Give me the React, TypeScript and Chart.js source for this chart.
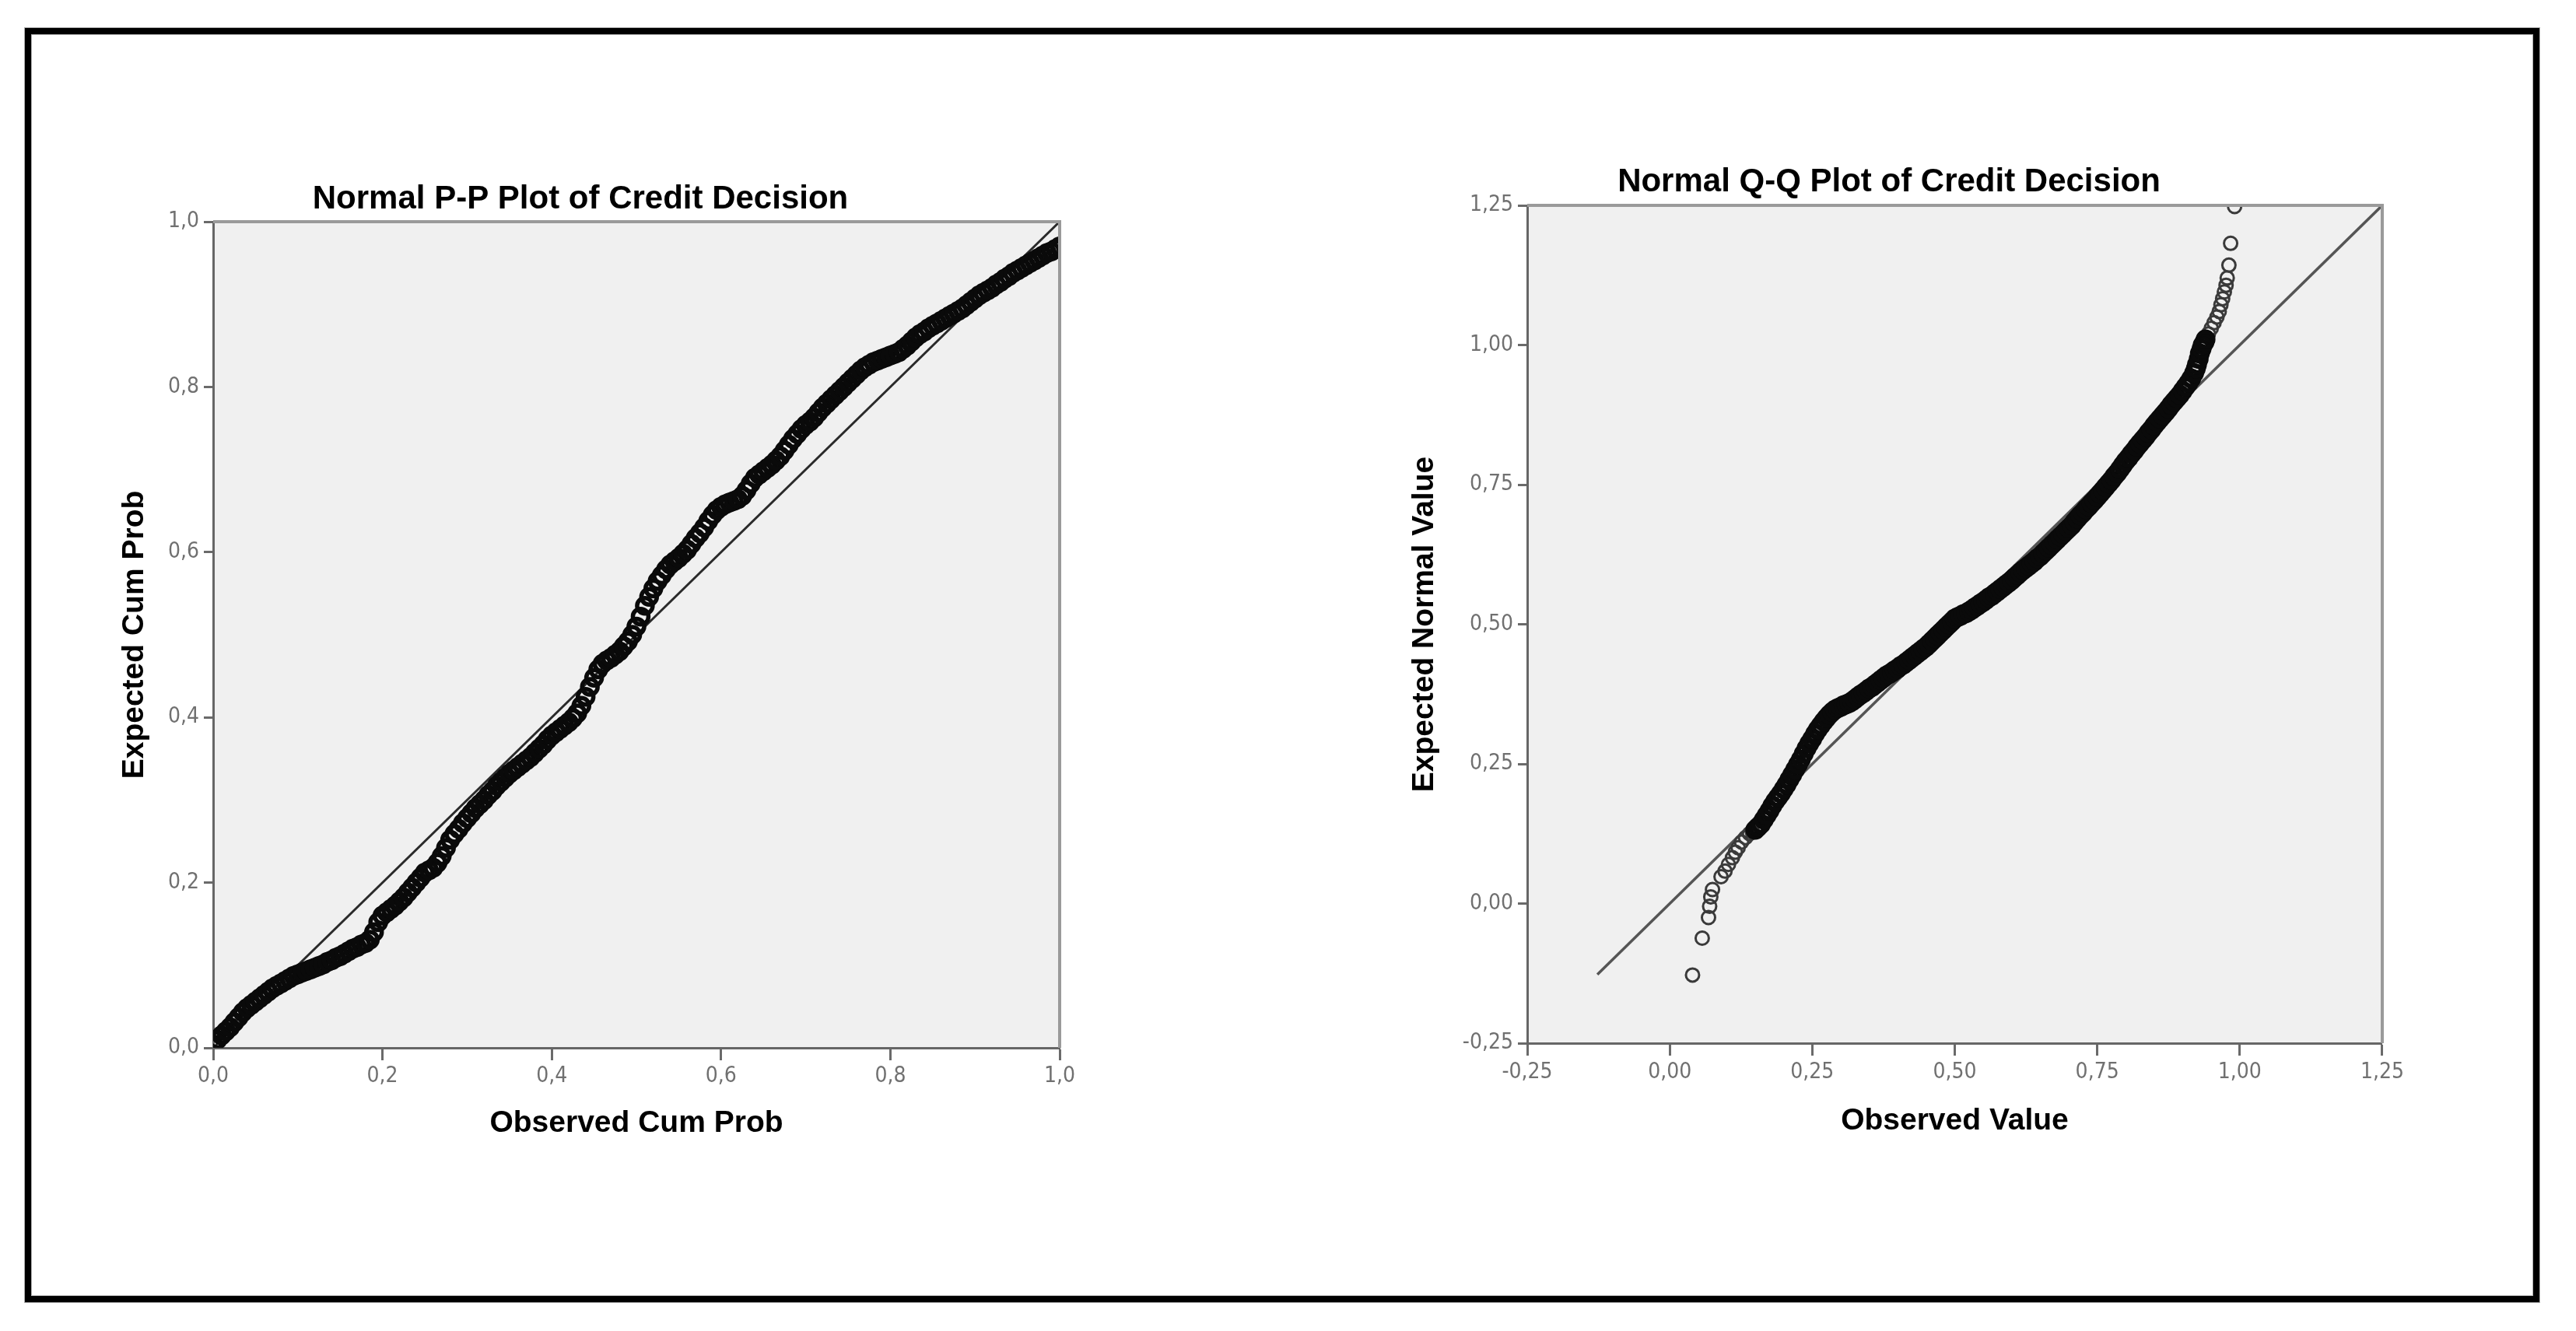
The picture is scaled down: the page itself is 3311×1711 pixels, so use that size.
import React, { useEffect, useRef } from 'react';
import { Chart, registerables } from 'chart.js';
Chart.register(...registerables);

// ---------- Normal P-P plot data ----------
const ppObserved = [
  0.000, 0.005, 0.010, 0.015, 0.020, 0.025, 0.030, 0.035, 0.040, 0.045,
  0.050, 0.055, 0.060, 0.065, 0.070, 0.075, 0.080, 0.085, 0.090, 0.095,
  0.100, 0.105, 0.110, 0.115, 0.120, 0.125, 0.130, 0.135, 0.140, 0.145,
  0.150, 0.155, 0.160, 0.165, 0.170, 0.175, 0.180, 0.185, 0.190, 0.195,
  0.200, 0.205, 0.210, 0.215, 0.220, 0.225, 0.230, 0.235, 0.240, 0.245,
  0.250, 0.255, 0.260, 0.265, 0.270, 0.275, 0.280, 0.285, 0.290, 0.295,
  0.300, 0.305, 0.310, 0.315, 0.320, 0.325, 0.330, 0.335, 0.340, 0.345,
  0.350, 0.355, 0.360, 0.365, 0.370, 0.375, 0.380, 0.385, 0.390, 0.395,
  0.400, 0.405, 0.410, 0.415, 0.420, 0.425, 0.430, 0.435, 0.440, 0.445,
  0.450, 0.455, 0.460, 0.465, 0.470, 0.475, 0.480, 0.485, 0.490, 0.495,
  0.500, 0.505, 0.510, 0.515, 0.520, 0.525, 0.530, 0.535, 0.540, 0.545,
  0.550, 0.555, 0.560, 0.565, 0.570, 0.575, 0.580, 0.585, 0.590, 0.595,
  0.600, 0.605, 0.610, 0.615, 0.620, 0.625, 0.630, 0.635, 0.640, 0.645,
  0.650, 0.655, 0.660, 0.665, 0.670, 0.675, 0.680, 0.685, 0.690, 0.695,
  0.700, 0.705, 0.710, 0.715, 0.720, 0.725, 0.730, 0.735, 0.740, 0.745,
  0.750, 0.755, 0.760, 0.765, 0.770, 0.775, 0.780, 0.785, 0.790, 0.795,
  0.800, 0.805, 0.810, 0.815, 0.820, 0.825, 0.830, 0.835, 0.840, 0.845,
  0.850, 0.855, 0.860, 0.865, 0.870, 0.875, 0.880, 0.885, 0.890, 0.895,
  0.900, 0.905, 0.910, 0.915, 0.920, 0.925, 0.930, 0.935, 0.940, 0.945,
  0.950, 0.955, 0.960, 0.965, 0.970, 0.975, 0.980, 0.985, 0.990, 0.995,
  1.000,
];
const ppExpected = [
  0.004, 0.010, 0.015, 0.020, 0.025, 0.031, 0.037, 0.043, 0.048, 0.052,
  0.056, 0.060, 0.064, 0.068, 0.072, 0.075, 0.078, 0.081, 0.084, 0.087,
  0.089, 0.091, 0.093, 0.095, 0.097, 0.099, 0.101, 0.104, 0.106, 0.109,
  0.111, 0.114, 0.117, 0.120, 0.122, 0.125, 0.127, 0.131, 0.140, 0.152,
  0.160, 0.164, 0.168, 0.172, 0.177, 0.182, 0.188, 0.194, 0.200, 0.206,
  0.212, 0.215, 0.218, 0.224, 0.232, 0.242, 0.252, 0.259, 0.265, 0.272,
  0.278, 0.284, 0.290, 0.295, 0.300, 0.306, 0.311, 0.317, 0.322, 0.327,
  0.332, 0.336, 0.340, 0.344, 0.348, 0.352, 0.357, 0.362, 0.367, 0.373,
  0.378, 0.382, 0.386, 0.390, 0.394, 0.399, 0.405, 0.414, 0.425, 0.437,
  0.448, 0.458, 0.465, 0.469, 0.472, 0.476, 0.480, 0.486, 0.492, 0.500,
  0.510, 0.522, 0.535, 0.546, 0.556, 0.565, 0.572, 0.579, 0.585, 0.589,
  0.593, 0.598, 0.603, 0.610, 0.617, 0.623, 0.630, 0.638, 0.645, 0.651,
  0.655, 0.658, 0.660, 0.662, 0.664, 0.668, 0.675, 0.683, 0.690, 0.694,
  0.698, 0.702, 0.706, 0.711, 0.716, 0.723, 0.730, 0.737, 0.743, 0.749,
  0.754, 0.758, 0.763, 0.769, 0.775, 0.780, 0.785, 0.790, 0.795, 0.800,
  0.805, 0.810, 0.815, 0.820, 0.824, 0.827, 0.830, 0.832, 0.834, 0.836,
  0.838, 0.840, 0.842, 0.846, 0.850, 0.855, 0.860, 0.864, 0.867, 0.871,
  0.874, 0.877, 0.880, 0.883, 0.886, 0.889, 0.892, 0.895, 0.899, 0.903,
  0.907, 0.911, 0.914, 0.917, 0.920, 0.924, 0.927, 0.931, 0.934, 0.938,
  0.941, 0.944, 0.947, 0.950, 0.953, 0.956, 0.959, 0.962, 0.964, 0.967,
  0.970,
];
const ppLineX = [0, 1];
const ppLineY = [0, 1];
const ppTickValues = [0, 0.2, 0.4, 0.6, 0.8, 1.0];
const ppTickLabels = ['0,0', '0,2', '0,4', '0,6', '0,8', '1,0'];

// ---------- Normal Q-Q plot data ----------
// lower tail (isolated circles)
const qqLowObserved = [
  0.040, 0.057, 0.068, 0.070, 0.072, 0.075, 0.090, 0.097, 0.103, 0.110,
  0.115, 0.120, 0.126, 0.133, 0.140, 0.145,
];
const qqLowExpected = [
  -0.128, -0.062, -0.025, -0.005, 0.012, 0.025, 0.048, 0.058, 0.070, 0.082,
  0.092, 0.100, 0.110, 0.118, 0.125, 0.128,
];
// dense central band
const qqObserved = [
  0.150, 0.155, 0.160, 0.165, 0.170, 0.175, 0.180, 0.185, 0.190, 0.195,
  0.200, 0.205, 0.210, 0.215, 0.220, 0.225, 0.230, 0.235, 0.240, 0.245,
  0.250, 0.255, 0.260, 0.265, 0.270, 0.275, 0.280, 0.285, 0.290, 0.295,
  0.300, 0.305, 0.310, 0.315, 0.320, 0.325, 0.330, 0.335, 0.340, 0.345,
  0.350, 0.355, 0.360, 0.365, 0.370, 0.375, 0.380, 0.385, 0.390, 0.395,
  0.400, 0.405, 0.410, 0.415, 0.420, 0.425, 0.430, 0.435, 0.440, 0.445,
  0.450, 0.455, 0.460, 0.465, 0.470, 0.475, 0.480, 0.485, 0.490, 0.495,
  0.500, 0.505, 0.510, 0.515, 0.520, 0.525, 0.530, 0.535, 0.540, 0.545,
  0.550, 0.555, 0.560, 0.565, 0.570, 0.575, 0.580, 0.585, 0.590, 0.595,
  0.600, 0.605, 0.610, 0.615, 0.620, 0.625, 0.630, 0.635, 0.640, 0.645,
  0.650, 0.655, 0.660, 0.665, 0.670, 0.675, 0.680, 0.685, 0.690, 0.695,
  0.700, 0.705, 0.710, 0.715, 0.720, 0.725, 0.730, 0.735, 0.740, 0.745,
  0.750, 0.755, 0.760, 0.765, 0.770, 0.775, 0.780, 0.785, 0.790, 0.795,
  0.800, 0.805, 0.810, 0.815, 0.820, 0.825, 0.830, 0.835, 0.840, 0.845,
  0.850, 0.855, 0.860, 0.865, 0.870, 0.875, 0.880, 0.885, 0.890, 0.895,
  0.900, 0.905, 0.910, 0.915, 0.920, 0.923, 0.925, 0.928, 0.930, 0.933,
  0.935, 0.938, 0.940,
];
const qqExpected = [
  0.132, 0.137, 0.142, 0.150, 0.158, 0.166, 0.175, 0.183, 0.190, 0.197,
  0.205, 0.213, 0.222, 0.231, 0.240, 0.249, 0.258, 0.268, 0.278, 0.287,
  0.295, 0.304, 0.312, 0.319, 0.326, 0.332, 0.338, 0.343, 0.347, 0.350,
  0.352, 0.355, 0.357, 0.359, 0.362, 0.366, 0.370, 0.374, 0.377, 0.381,
  0.385, 0.388, 0.392, 0.396, 0.400, 0.404, 0.408, 0.411, 0.414, 0.418,
  0.421, 0.425, 0.428, 0.432, 0.436, 0.440, 0.444, 0.448, 0.452, 0.456,
  0.460, 0.465, 0.470, 0.475, 0.480, 0.485, 0.490, 0.495, 0.500, 0.505,
  0.510, 0.513, 0.515, 0.518, 0.520, 0.523, 0.526, 0.530, 0.533, 0.537,
  0.540, 0.544, 0.548, 0.551, 0.555, 0.559, 0.563, 0.567, 0.571, 0.575,
  0.579, 0.584, 0.588, 0.593, 0.597, 0.601, 0.605, 0.609, 0.613, 0.618,
  0.622, 0.627, 0.632, 0.637, 0.642, 0.647, 0.652, 0.657, 0.662, 0.667,
  0.672, 0.677, 0.683, 0.689, 0.695, 0.700, 0.706, 0.711, 0.717, 0.722,
  0.728, 0.734, 0.740, 0.746, 0.752, 0.758, 0.765, 0.771, 0.778, 0.785,
  0.792, 0.798, 0.805, 0.811, 0.818, 0.824, 0.830, 0.836, 0.843, 0.849,
  0.856, 0.862, 0.868, 0.874, 0.880, 0.886, 0.893, 0.899, 0.905, 0.911,
  0.918, 0.925, 0.932, 0.940, 0.950, 0.958, 0.965, 0.975, 0.985, 0.993,
  1.000, 1.005, 1.010,
];
// upper tail (isolated circles)
const qqHighObserved = [
  0.945, 0.950, 0.955, 0.960, 0.964, 0.967, 0.970, 0.973, 0.976, 0.978,
  0.981, 0.984, 0.991,
];
const qqHighExpected = [
  1.020, 1.030, 1.040, 1.050, 1.060, 1.072, 1.083, 1.095, 1.107, 1.120,
  1.143, 1.182, 1.248,
];
const qqLineX = [-0.127, 1.25];
const qqLineY = [-0.127, 1.25];
const qqTickValues = [-0.25, 0, 0.25, 0.5, 0.75, 1.0, 1.25];
const qqTickLabels = ['-0,25', '0,00', '0,25', '0,50', '0,75', '1,00', '1,25'];

const FONT = "Arial, 'Liberation Sans', Helvetica, sans-serif";
const TICK_FONT = "'Liberation Sans Narrow', 'Arial Narrow', 'DejaVu Sans Condensed', Arial, 'Liberation Sans', sans-serif";

const plotFrame = {
  id: 'plotFrame',
  beforeDraw(chart: any) {
    const { ctx, chartArea: a } = chart;
    ctx.save();
    ctx.fillStyle = '#f0f0f0';
    ctx.fillRect(a.left, a.top, a.right - a.left, a.bottom - a.top);
    ctx.restore();
  },
  afterDraw(chart: any) {
    const { ctx, chartArea: a } = chart;
    ctx.save();
    ctx.strokeStyle = '#9a9a9a';
    ctx.lineWidth = 4;
    ctx.beginPath();
    ctx.moveTo(a.left, a.top);
    ctx.lineTo(a.right, a.top);
    ctx.lineTo(a.right, a.bottom);
    ctx.stroke();
    ctx.restore();
  },
};

type Series = { observed: number[]; expected: number[]; dense: boolean };

type Cfg = {
  series: Series[];
  lineX: number[];
  lineY: number[];
  tickValues: number[];
  tickLabels: string[];
  title: string;
  xTitle: string;
  yTitle: string;
  titlePadBottom: number;
  yAxisWidth: number;
  yTitlePad: number;
  xAxisHeight: number;
  xTitlePad: number;
  xTickPad: number;
  lineColor: string;
  lineWidth: number;
};

function makeScale(axis: 'x' | 'y', c: Cfg) {
  const vals = c.tickValues;
  return {
    type: 'linear',
    position: axis === 'x' ? 'bottom' : 'left',
    min: vals[0],
    max: vals[vals.length - 1],
    afterBuildTicks: (scale: any) => {
      scale.ticks = vals.map((v) => ({ value: v }));
    },
    afterFit: (scale: any) => {
      if (axis === 'x') scale.height = c.xAxisHeight;
      else scale.width = c.yAxisWidth;
    },
    ticks: {
      autoSkip: false,
      maxRotation: 0,
      minRotation: 0,
      padding: axis === 'x' ? c.xTickPad : 6,
      color: '#707070',
      font: { family: TICK_FONT, size: 28 },
      callback: (v: number) => {
        const i = vals.findIndex((t) => Math.abs(t - v) < 1e-9);
        return i >= 0 ? c.tickLabels[i] : '';
      },
    },
    grid: {
      display: true,
      drawOnChartArea: false,
      drawTicks: true,
      tickLength: axis === 'x' ? 16 : 12,
      tickColor: '#6a6a6a',
      tickWidth: 3,
    },
    border: { display: true, color: '#666666', width: 3 },
    title: {
      display: true,
      text: axis === 'x' ? c.xTitle : c.yTitle,
      color: '#000',
      font: { family: FONT, size: 39, weight: 'bold' },
      padding: axis === 'x' ? { top: 0, bottom: c.xTitlePad } : { top: c.yTitlePad, bottom: 0 },
    },
  };
}

function Plot(props: { cfg: Cfg; left: number; top: number; width: number; height: number }) {
  const ref = useRef<HTMLCanvasElement | null>(null);
  const { cfg, left, top, width, height } = props;
  useEffect(() => {
    if (!ref.current) return;
    const pointSets = cfg.series.map((s) => ({
      data: s.observed.map((x, i) => ({ x, y: s.expected[i] })),
      pointStyle: 'circle',
      pointRadius: s.dense ? 10 : 8.5,
      pointBorderWidth: s.dense ? 5.5 : 3,
      pointBorderColor: s.dense ? '#0a0a0a' : '#3a3a3a',
      pointBackgroundColor: 'rgba(0,0,0,0)',
      showLine: false,
    }));
    const line = cfg.lineX.map((x, i) => ({ x, y: cfg.lineY[i] }));
    const chart = new Chart(ref.current, {
      type: 'scatter',
      data: {
        datasets: [
          ...pointSets,
          {
            data: line,
            showLine: true,
            pointRadius: 0,
            borderColor: cfg.lineColor,
            borderWidth: cfg.lineWidth,
            fill: false,
          },
        ],
      } as any,
      options: {
        responsive: false,
        animation: false,
        devicePixelRatio: 1,
        events: [],
        layout: { padding: { left: 0, right: 30, top: 0, bottom: 0 } },
        plugins: {
          legend: { display: false },
          tooltip: { enabled: false },
          title: {
            display: true,
            text: cfg.title,
            color: '#000',
            font: { family: FONT, size: 42, weight: 'bold' },
            padding: { top: 0, bottom: cfg.titlePadBottom },
          },
        },
        scales: {
          x: makeScale('x', cfg),
          y: makeScale('y', cfg),
        } as any,
      } as any,
      plugins: [plotFrame],
    });
    return () => chart.destroy();
  }, [cfg]);
  return (
    <canvas
      ref={ref}
      width={width}
      height={height}
      style={{ position: 'absolute', left, top, width, height }}
    />
  );
}

const ppCfg: Cfg = {
  series: [{ observed: ppObserved, expected: ppExpected, dense: true }],
  lineX: ppLineX,
  lineY: ppLineY,
  tickValues: ppTickValues,
  tickLabels: ppTickLabels,
  title: 'Normal P-P Plot of Credit Decision',
  xTitle: 'Observed Cum Prob',
  yTitle: 'Expected Cum Prob',
  titlePadBottom: 3.6,
  yAxisWidth: 144,
  yTitlePad: 19.6,
  xAxisHeight: 130,
  xTitlePad: 9.6,
  xTickPad: 4,
  lineColor: '#2a2a2a',
  lineWidth: 3,
};

const qqCfg: Cfg = {
  series: [
    { observed: qqObserved, expected: qqExpected, dense: true },
    { observed: qqLowObserved, expected: qqLowExpected, dense: false },
    { observed: qqHighObserved, expected: qqHighExpected, dense: false },
  ],
  lineX: qqLineX,
  lineY: qqLineY,
  tickValues: qqTickValues,
  tickLabels: qqTickLabels,
  title: 'Normal Q-Q Plot of Credit Decision',
  xTitle: 'Observed Value',
  yTitle: 'Expected Normal Value',
  titlePadBottom: 4.6,
  yAxisWidth: 172,
  yTitlePad: 16.6,
  xAxisHeight: 130,
  xTitlePad: 6.6,
  xTickPad: 5,
  lineColor: '#555555',
  lineWidth: 3.5,
};

export default function App() {
  return (
    <div
      style={{
        position: 'absolute',
        left: 0,
        top: 0,
        width: 3311,
        height: 1711,
        background: '#ffffff',
        overflow: 'hidden',
      }}
    >
      <div
        style={{
          position: 'absolute',
          left: 32,
          top: 36,
          width: 3232,
          height: 1638,
          boxSizing: 'border-box',
          border: '8px solid #000',
          boxShadow: 'inset 0 0 0 1px #b0b0b0, 0 0 0 1px #b0b0b0',
        }}
      />
      <Plot cfg={ppCfg} left={130} top={231} width={1262} height={1246} />
      <Plot cfg={qqCfg} left={1791} top={209} width={1304} height={1262} />
    </div>
  );
}
